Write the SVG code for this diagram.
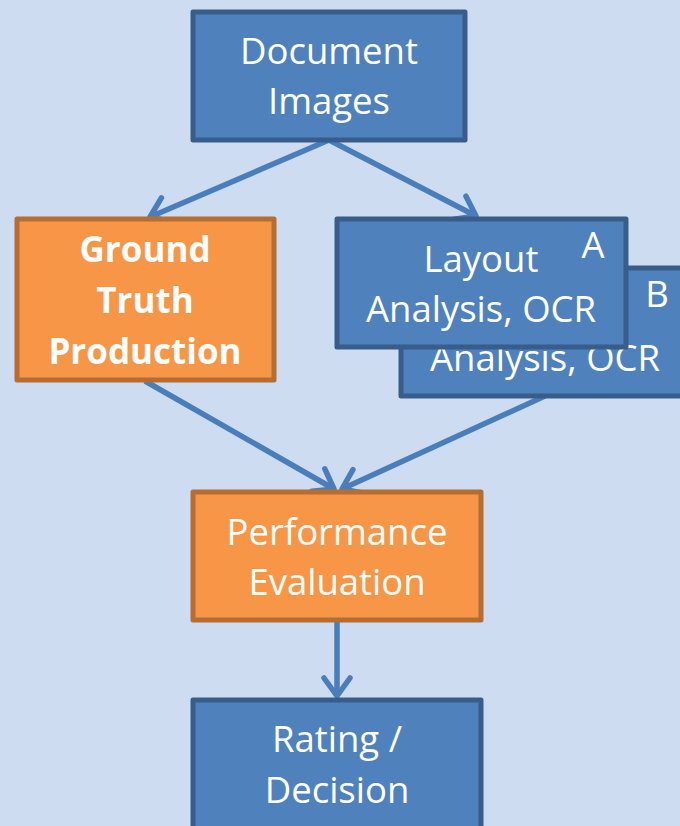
<svg xmlns="http://www.w3.org/2000/svg" width="680" height="826" viewBox="0 0 680 826">
<defs>
<style>
.blue{fill:#4f81bd;stroke:#385d8a;stroke-width:5;stroke-linejoin:round}
.orange{fill:#f79646;stroke:#b66d31;stroke-width:5;stroke-linejoin:round}
.t{font-family:"Open Sans","Noto Sans","Liberation Sans",sans-serif;font-size:36.5px;fill:#ffffff;text-anchor:middle}
.b{font-weight:bold;font-size:35px}
.conn{stroke:#4a7ebb;stroke-width:5.5;fill:none}
</style>
<marker id="arr" markerUnits="userSpaceOnUse" markerWidth="50" markerHeight="50" viewBox="-25 -25 50 50" refX="0" refY="0" orient="auto">
<path d="M-18,-13 L0,0 L-18,13" fill="none" stroke="#4a7ebb" stroke-width="5.5" stroke-linecap="round" stroke-linejoin="round"/>
</marker>
</defs>
<rect x="0" y="0" width="680" height="826" fill="#cddcf1"/>
<g id="connectors">
<line class="conn" x1="329" y1="140" x2="150" y2="217" marker-end="url(#arr)"/>
<line class="conn" x1="329" y1="140" x2="476" y2="216" marker-end="url(#arr)"/>
<line class="conn" x1="145" y1="381" x2="334" y2="489" marker-end="url(#arr)"/>
<line class="conn" x1="545" y1="396" x2="342" y2="489" marker-end="url(#arr)"/>
<line class="conn" x1="337" y1="622" x2="337" y2="696" marker-end="url(#arr)"/>
</g>
<g id="document-images">
<rect class="blue" x="193" y="12" width="272" height="128"/>
<text class="t" x="329" y="64">Document</text>
<text class="t" x="329" y="114">Images</text>
</g>
<g id="ground-truth">
<rect class="orange" x="17" y="219" width="257" height="161"/>
<text class="t b" x="145" y="262">Ground</text>
<text class="t b" x="145" y="313">Truth</text>
<text class="t b" x="145" y="364">Production</text>
</g>
<g id="layout-b">
<rect class="blue" x="401" y="268" width="292" height="128"/>
<text class="t" x="657" y="307">B</text>
<text class="t" x="545" y="371">Analysis, OCR</text>
</g>
<g id="layout-a">
<rect class="blue" x="337" y="219" width="289" height="128"/>
<text class="t" x="593" y="258">A</text>
<text class="t" x="481" y="272">Layout</text>
<text class="t" x="481" y="322">Analysis, OCR</text>
</g>
<g id="performance-evaluation">
<rect class="orange" x="193" y="492" width="288" height="128"/>
<text class="t" x="337" y="545">Performance</text>
<text class="t" x="337" y="595">Evaluation</text>
</g>
<g id="rating-decision">
<rect class="blue" x="193" y="700" width="288" height="140"/>
<text class="t" x="337" y="752">Rating /</text>
<text class="t" x="337" y="803">Decision</text>
</g>
</svg>
